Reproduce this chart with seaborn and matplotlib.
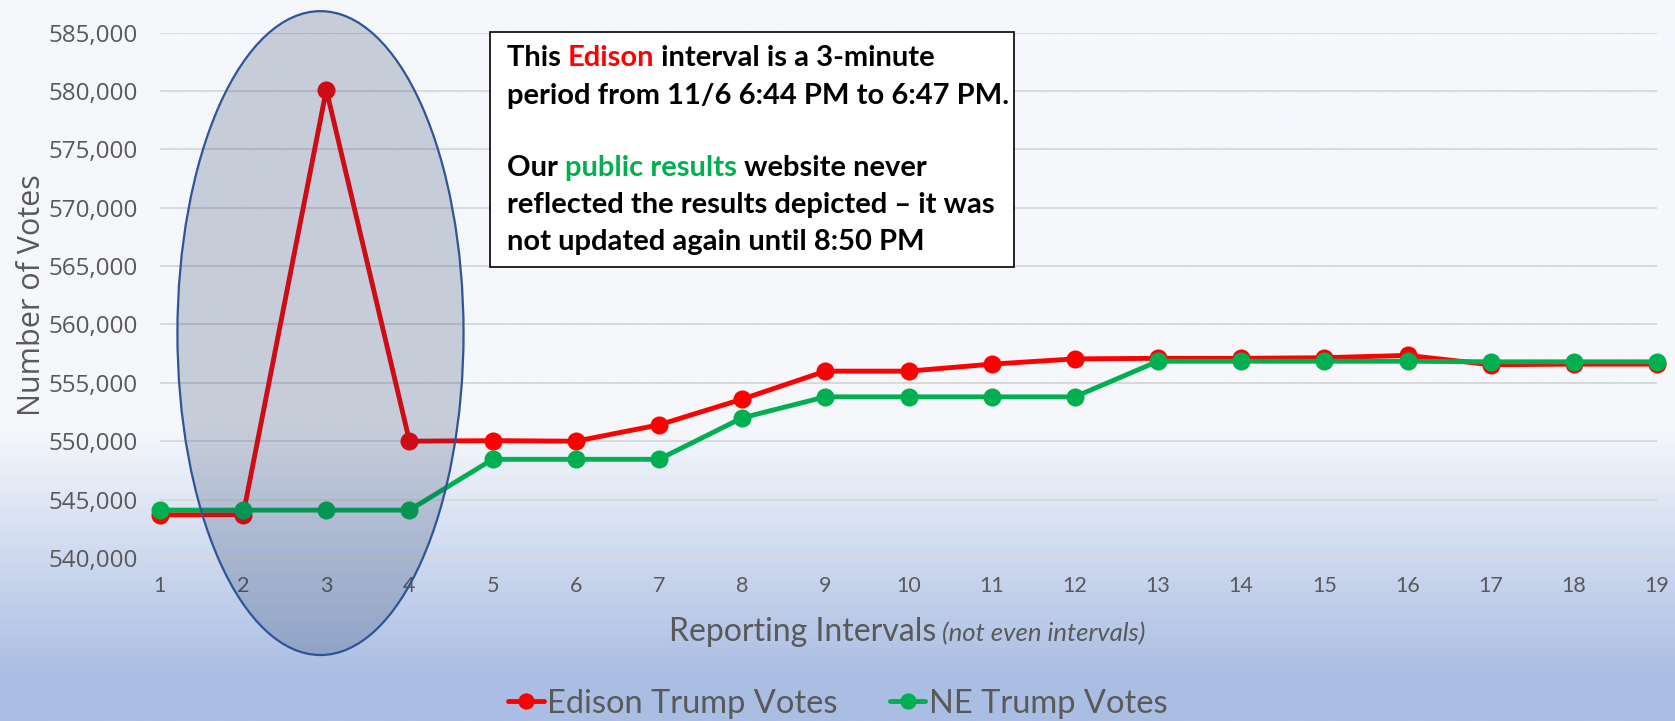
import matplotlib
matplotlib.use("Agg")
import matplotlib.pyplot as plt
import seaborn as sns
import numpy as np
from matplotlib.patches import Ellipse, Rectangle
from matplotlib.colors import LinearSegmentedColormap
from matplotlib.ticker import FuncFormatter, FixedLocator

# Datos
intervals = list(range(1, 20))
edison_votes = [543700, 543700, 580100, 550000, 550050, 550000, 551400, 553600,
                556000, 556000, 556600, 557050, 557100, 557100, 557150, 557350,
                556550, 556600, 556600]
ne_votes = [544100, 544100, 544100, 544100, 548450, 548450, 548450, 552000,
            553800, 553800, 553800, 553800, 556850, 556850, 556850, 556850,
            556800, 556800, 556800]
series_names = ["Edison Trump Votes", "NE Trump Votes"]
y_ticks = list(range(540000, 585001, 5000))

RED = "#ff0000"
GREEN = "#00b050"
GRAY = "#595959"
GRID = "#d9d9d9"

sns.set_theme(style="white")
plt.rcParams["font.family"] = ["Lato", "DejaVu Sans"]

fig = plt.figure(figsize=(16.75, 7.21), dpi=100)

# Fondo degradado
bg = fig.add_axes([0, 0, 1, 1], zorder=-10)
cmap_bg = LinearSegmentedColormap.from_list(
    "bg", [(0, "#f5f7fb"), (0.596, "#f5f7fb"), (0.943, "#aabde3"), (1, "#abbee4")])
bg.imshow(np.linspace(0, 1, 500).reshape(-1, 1), cmap=cmap_bg, aspect="auto",
          extent=[0, 1, 0, 1])
bg.axis("off")

ax = fig.add_axes([0.0955, 0.2261, 0.8938, 0.7288])
ax.patch.set_alpha(0)

sns.lineplot(x=intervals, y=edison_votes, ax=ax, color=RED, linewidth=3.5,
             marker="o", markersize=13, markeredgewidth=0, label=series_names[0],
             clip_on=False)
sns.lineplot(x=intervals, y=ne_votes, ax=ax, color=GREEN, linewidth=3.5,
             marker="o", markersize=13, markeredgewidth=0, label=series_names[1],
             clip_on=False)

ax.set_xlim(1, 19)
ax.set_ylim(540000, 585000)
ax.set_xticks(intervals)
ax.set_yticks(y_ticks)
ax.yaxis.set_major_formatter(FuncFormatter(lambda v, p: f"{int(v):,}"))
ax.yaxis.grid(True, color=GRID, linewidth=1.4)
ax.xaxis.grid(False)
for s in ["top", "right", "left"]:
    ax.spines[s].set_visible(False)
ax.spines["bottom"].set_color(GRID)
ax.spines["bottom"].set_linewidth(1.4)

ax.tick_params(axis="x", which="major", length=0, pad=13, labelsize=15.5, labelcolor=GRAY)
ax.tick_params(axis="y", length=0, pad=16, labelsize=17.5, labelcolor=GRAY,
               labelfontfamily="Open Sans")
ax.xaxis.set_minor_locator(FixedLocator(intervals[::2]))
ax.xaxis.remove_overlapping_locs = False
ax.tick_params(axis="x", which="minor", direction="inout", length=8, color=GRID, width=1.2)

ax.set_ylabel("Number of Votes", fontsize=22, color=GRAY, family="Open Sans")
ax.yaxis.label.set_va("center")
ax.yaxis.set_label_coords(-0.0855, 0.5)

ax.set_xlabel("Reporting Intervals", fontsize=23, color=GRAY)
ax.xaxis.label.set_ha("right")
ax.xaxis.label.set_va("center")
ax.xaxis.set_label_coords(0.5182, -0.14)
ax.annotate(" (not even intervals)", xy=(1, 0.03), xycoords=ax.xaxis.label,
            va="bottom", ha="left", fontsize=18.5, style="italic", color=GRAY)

# Elipse que resalta el pico
ax.add_patch(Ellipse((2.93, 559260), width=3.44, height=55140,
                     facecolor=(31 / 255, 56 / 255, 100 / 255, 0.22),
                     edgecolor="#2f5597", linewidth=1.6, clip_on=False, zorder=5))

# Cuadro de texto
ax.add_patch(Rectangle((0.2923, 0.6297), 0.3129, 0.3264, transform=fig.transFigure,
                       facecolor="white", edgecolor="black", linewidth=1.2,
                       clip_on=False, zorder=10))

box_lines = [
    (0.9088, [("This ", "black"), ("Edison", RED), (" interval is a 3-minute", "black")]),
    (0.8558, [("period from 11/6 6:44 PM to 6:47 PM.", "black")]),
    (0.7563, [("Our ", "black"), ("public results", GREEN), (" website never", "black")]),
    (0.7046, [("reflected the results depicted \u2013 it was", "black")]),
    (0.6533, [("not updated again until 8:50 PM", "black")]),
]
for y, parts in box_lines:
    t = ax.text(0.3026, y, parts[0][0], color=parts[0][1], fontsize=21,
                weight="bold", va="baseline", transform=fig.transFigure,
                clip_on=False, zorder=11)
    for txt, col in parts[1:]:
        t = ax.annotate(txt, xy=(1, 0), xycoords=t, va="bottom", ha="left",
                        color=col, fontsize=21, weight="bold", zorder=11)

handles, labels = ax.get_legend_handles_labels()
ax.get_legend().remove()
fig.legend(handles, labels, loc="center", bbox_to_anchor=(0.5, 0.024), ncol=2,
           frameon=False, fontsize=23.5, handlelength=1.1, handletextpad=0.1,
           columnspacing=1.6, labelcolor=GRAY, markerscale=0.9)

fig.savefig("out.png", dpi=100)
